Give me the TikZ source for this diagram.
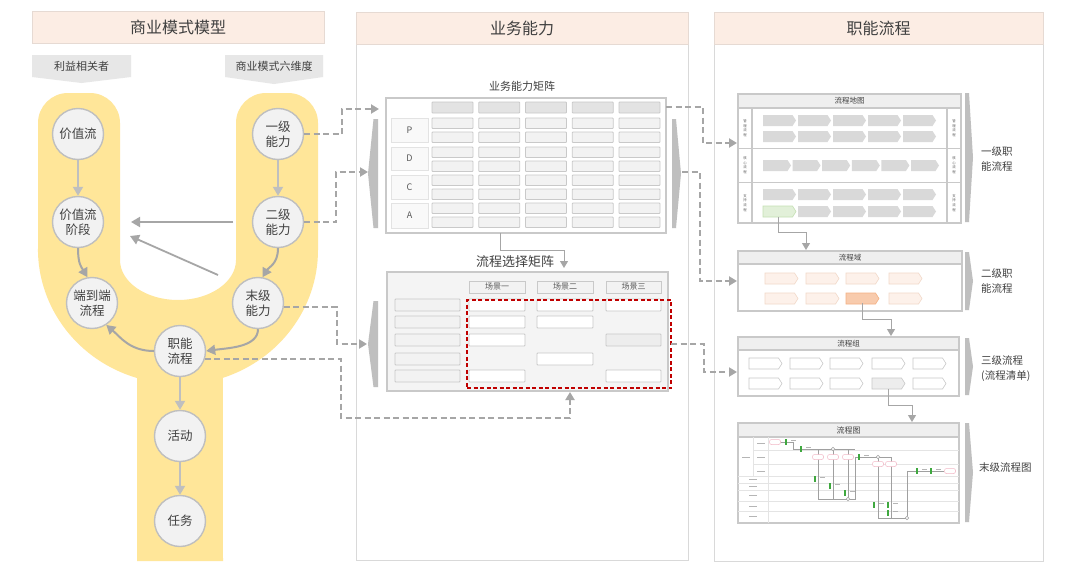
\documentclass[tikz,border=0pt]{standalone}
\usepackage{fontspec}
\setmainfont{Noto Sans CJK SC}
\usetikzlibrary{arrows.meta}
\definecolor{hdr}{HTML}{FCEDE4}
\definecolor{hdrb}{HTML}{E6DAD3}
\definecolor{frm}{HTML}{D9D9D9}
\definecolor{ylw}{HTML}{FFE699}
\definecolor{cfill}{HTML}{F2F2F2}
\definecolor{cline}{HTML}{BFBFBF}
\definecolor{txtc}{HTML}{404040}
\definecolor{stxt}{HTML}{595959}
\definecolor{dgray}{HTML}{A6A6A6}
\definecolor{lgray}{HTML}{BFBFBF}
\definecolor{cellc}{HTML}{F2F2F2}
\definecolor{cellb}{HTML}{C9C9C9}
\definecolor{hcell}{HTML}{E3E3E3}
\definecolor{labc}{HTML}{E7E7E7}
\definecolor{lblf}{HTML}{F9F9F9}
\definecolor{lblb}{HTML}{E3E3E3}
\definecolor{m2fill}{HTML}{F4F4F4}
\definecolor{chevc}{HTML}{D9D9D9}
\definecolor{peach}{HTML}{FDF1EA}
\definecolor{peachb}{HTML}{F2D9C9}
\definecolor{orng}{HTML}{F8CBAD}
\definecolor{orngb}{HTML}{F4B183}
\definecolor{grn}{HTML}{E2F0D9}
\definecolor{grnb}{HTML}{C5E0B4}
\definecolor{redc}{HTML}{C00000}
\definecolor{grayc}{HTML}{EDEDED}
\definecolor{hstrip}{HTML}{EFEFEF}
\definecolor{fgreen}{HTML}{3FA83F}
\definecolor{fpink}{HTML}{F2B8C6}
\definecolor{lane}{HTML}{E4E4E4}
\definecolor{flow}{HTML}{A0A0A0}
\definecolor{tlab}{HTML}{B5B5B5}

\newcommand\fs[2]{\fontsize{#1}{#2}\selectfont}
\newcommand\bx[7]{\node[#6,anchor=north west,minimum width={(#4-#2)*1pt},minimum height={(#5-#3)*1pt},inner sep=0pt,outer sep=0pt] (#1) at (#2,#3) {#7};}
\newcommand\chv[5]{\path[#5] (#1,#2) -- ++({#3-3.5},0) -- ++(3.5,{#4/2}) -- ++(-3.5,{#4/2}) -- ++({-#3+3.5},0) -- cycle;}
\newcommand\rbar[4]{\fill[lgray] (#1,#2) -- ({#1+4},#2) -- (#3,{(#2+#4)/2}) -- ({#1+4},#4) -- (#1,#4) -- cycle;}
\newcommand\lbar[4]{\fill[lgray] (#3,#2) -- ({#3-4.5},#2) -- (#1,{(#2+#4)/2}) -- ({#3-4.5},#4) -- (#3,#4) -- cycle;}
\newcommand\tl[2]{\fill[tlab] ({#1-4},{#2-0.5}) rectangle ({#1+4},{#2+0.5});}

\begin{document}
\begin{tikzpicture}[x=1pt,y=-1pt,
 circ/.style={circle,draw=cline,fill=cfill,line width=1.4pt,minimum size=51pt,inner sep=0pt,align=center,text=txtc,font=\fs{12.5}{15}},
 hdrbox/.style={draw=hdrb,fill=hdr,line width=0.8pt,text=txtc,font=\fs{16}{19}},
 frame/.style={draw=frm,line width=0.8pt},
 dsh/.style={draw=dgray,line width=2pt,dash pattern=on 6pt off 3.5pt,-{Triangle[length=8pt,width=9pt]}},
 sarr/.style={draw=lgray,line width=2pt,-{Triangle[length=9pt,width=10pt]}},
 carr/.style={draw=dgray,line width=2pt,-{Triangle[length=9pt,width=10pt]}},
 thinarr/.style={draw=dgray,line width=1pt,-{Triangle[length=7pt,width=8pt]}},
 cellst/.style={draw=cellb,fill=cellc,line width=0.8pt,rounded corners=0.8pt},
 hcellst/.style={draw=cellb,fill=hcell,line width=0.8pt,rounded corners=0.8pt},
 wcell/.style={draw=cellb,fill=white,line width=0.8pt,rounded corners=0.8pt},
 lblst/.style={draw=lblb,fill=lblf,line width=0.8pt,font=\fs{9}{11},text=stxt},
 bigbox/.style={draw=cellb,fill=white,line width=1.2pt},
 strip/.style={draw=cellb,fill=hstrip,line width=1.2pt,text=txtc},
 sep/.style={draw=cellb,line width=1.2pt},
 vt/.style={align=center,font=\fs{3.4}{4.6},text=stxt,inner sep=0pt},
 side/.style={anchor=west,align=left,font=\fs{10.5}{15},text=txtc,inner sep=0pt},
 fline/.style={draw=flow,line width=0.7pt},
 fov/.style={draw=fpink,fill=white,line width=0.5pt,rounded corners=2pt,minimum width=11pt,minimum height=5pt,inner sep=0pt},
 fgb/.style={fill=fgreen,minimum width=2pt,minimum height=6pt,inner sep=0pt},
 fj/.style={circle,draw=flow,fill=white,line width=0.5pt,minimum size=3.5pt,inner sep=0pt}
]
\useasboundingbox (0,0) rectangle (1080,573);
\fill[white] (0,0) rectangle (1080,573);

% ---------- panel frames and headers ----------
\draw[frame] (356,12) rectangle (688,560);
\draw[frame] (714,12) rectangle (1043,561);
\bx{h1}{32}{11}{324}{43}{hdrbox}{商业模式模型}
\bx{h2}{356}{12}{688}{44}{hdrbox}{业务能力}
\bx{h3}{714}{12}{1043}{44}{hdrbox}{职能流程}

% ---------- pentagon labels ----------
\fill[labc] (32,55) -- (131,55) -- (131,77) -- (81.5,83) -- (32,77) -- cycle;
\node[font=\fs{11}{13},text=txtc] (lstake) at (81.5,66.5) {利益相关者};
\fill[labc] (225,55) -- (323,55) -- (323,77) -- (274,84) -- (225,77) -- cycle;
\node[font=\fs{11}{13},text=txtc] (lsix) at (274,66.5) {商业模式六维度};

% ---------- yellow Y ----------
\fill[ylw] (38,250) -- (38,123) arc[start angle=180,end angle=270,radius=30]
  -- (90,93) arc[start angle=270,end angle=360,radius=30]
  -- (120,260) arc[start angle=180,end angle=0,x radius=58,y radius=40]
  -- (236,123) arc[start angle=180,end angle=270,radius=30]
  -- (288,93) arc[start angle=270,end angle=360,radius=30]
  -- (318,250) arc[start angle=0,end angle=71.3,x radius=140,y radius=135]
  -- (223,561) -- (137,561) -- (137,378)
  arc[start angle=107,end angle=180,x radius=140,y radius=135] -- cycle;

% ---------- circles ----------
\node[circ] (vs) at (78,134) {价值流};
\node[circ] (c1) at (278,134) {一级\\能力};
\node[circ] (vst) at (78,222) {价值流\\阶段};
\node[circ] (c2) at (278,222) {二级\\能力};
\node[circ] (e2e) at (92,303) {端到端\\流程};
\node[circ] (c3) at (258,303) {末级\\能力};
\node[circ] (fn) at (180,351) {职能\\流程};
\node[circ] (act) at (180,436) {活动};
\node[circ] (task) at (180,521) {任务};

\draw[sarr] (vs) -- (vst);
\draw[sarr] (c1) -- (c2);
\draw[sarr] (fn) -- (act);
\draw[sarr] (act) -- (task);
\draw[carr] (vst.south) .. controls +(0,16) and +(-6,-10) .. (e2e.100);
\draw[carr] (c2.south) .. controls +(0,16) and +(6,-10) .. (c3.80);
\draw[carr] (c3.south) .. controls +(0,18) and +(22,-3) .. (fn.east);
\draw[carr] (fn.west) .. controls +(-24,0) and +(14,12) .. (e2e.-57);

\coordinate (f1s) at (233,222);
\coordinate (f1e) at (131,222);
\coordinate (f2s) at (218,275);
\coordinate (f2e) at (130,236);
\draw[draw=dgray,line width=1.8pt,-{Triangle[length=9pt,width=10pt]}] (f1s) -- (f1e);
\draw[draw=dgray,line width=1.8pt,-{Triangle[length=9pt,width=10pt]}] (f2s) -- (f2e);

% ---------- matrix 1 ----------
\node[font=\fs{11}{13},text=txtc] (m1t) at (522,86) {业务能力矩阵};
\bx{m1}{386}{98}{666}{233}{bigbox}{}
\foreach \c in {0,...,4}{
  \draw[hcellst] ({432+\c*46.75},102) rectangle ++(41,11);
  \foreach \r in {118,132,147,161,175,189,203,217}{
    \draw[cellst] ({432+\c*46.75},\r) rectangle ++(41,10.5);
  }
}
\bx{mp}{391}{118}{428}{142}{lblst}{P}
\bx{md}{391}{147}{428}{170}{lblst}{D}
\bx{mc}{391}{175}{428}{199}{lblst}{C}
\bx{ma}{391}{203}{428}{228}{lblst}{A}
\lbar{368}{119}{378}{228}
\rbar{672}{119}{681}{228}

% ---------- matrix 2 ----------
\node[font=\fs{13}{15},text=txtc] (m2t) at (515,262) {流程选择矩阵};
\bx{m2}{387}{272}{668}{391}{draw=cellb,fill=m2fill,line width=1.2pt}{}
\bx{s1}{469}{281}{525}{293}{draw=cellb,fill=cellc,line width=0.8pt,font=\fs{8}{9},text=stxt}{场景一}
\bx{s2}{537}{281}{593}{293}{draw=cellb,fill=cellc,line width=0.8pt,font=\fs{8}{9},text=stxt}{场景二}
\bx{s3}{606}{281}{661}{293}{draw=cellb,fill=cellc,line width=0.8pt,font=\fs{8}{9},text=stxt}{场景三}
\foreach \r in {299,316,334,353,370}{\draw[cellst] (395,\r) rectangle (460,{\r+12});}
\foreach \r in {299,316,334,370}{\draw[wcell] (469,\r) rectangle (525,{\r+12});}
\foreach \r in {299,316,353}{\draw[wcell] (537,\r) rectangle (593,{\r+12});}
\draw[wcell] (606,299) rectangle (661,311);
\draw[cellst,fill=grayc] (606,334) rectangle (661,346);
\draw[wcell] (606,370) rectangle (661,382);
\bx{sel}{467}{300}{671}{388}{draw=redc,line width=1.5pt,dash pattern=on 4pt off 2.5pt}{}
\lbar{368}{301}{378}{387}

% ---------- level 1: 流程地图 ----------
\bx{lv1}{738}{94}{961}{223}{bigbox}{}
\bx{lv1h}{738}{94}{961}{108}{strip,font=\fs{7.5}{9}}{流程地图}
\draw[sep] (738,148.5) -- (961,148.5);
\draw[sep] (738,182.5) -- (961,182.5);
\draw[sep] (752,108) -- (752,223);
\draw[sep] (947,108) -- (947,223);
\node[vt] (vl1) at (745,128) {管\\理\\流\\程};
\node[vt] (vl2) at (745,165) {核\\心\\流\\程};
\node[vt] (vl3) at (745,203) {支\\持\\流\\程};
\node[vt] (vr1) at (954,128) {管\\理\\流\\程};
\node[vt] (vr2) at (954,165) {核\\心\\流\\程};
\node[vt] (vr3) at (954,203) {支\\持\\流\\程};
\foreach \i in {0,...,4}{
  \chv{{763+35*\i}}{115}{33}{11}{fill=chevc}
  \chv{{763+35*\i}}{131}{33}{11}{fill=chevc}
  \chv{{763+35*\i}}{189}{33}{11}{fill=chevc}
}
\foreach \i in {1,...,4}{\chv{{763+35*\i}}{206}{33}{11}{fill=chevc}}
\chv{763}{206}{33}{11}{fill=grn,draw=grnb,line width=0.6pt}
\foreach \i in {0,...,5}{\chv{{763+29.6*\i}}{160}{28}{11}{fill=chevc}}
\rbar{965}{93}{973}{222}
\node[side] (lb1) at (981,158.5) {一级职\\能流程};

% ---------- level 2: 流程域 ----------
\bx{lv2}{738}{251}{962}{311}{bigbox}{}
\bx{lv2h}{738}{251}{962}{264}{strip,font=\fs{7.5}{9}}{流程域}
\foreach \x in {765,806,846,889}{
  \chv{\x}{273}{33}{11}{fill=peach,draw=peachb,line width=0.6pt}
}
\foreach \x in {765,806,889}{
  \chv{\x}{293}{33}{11}{fill=peach,draw=peachb,line width=0.6pt}
}
\chv{846}{293}{33}{11}{fill=orng,draw=orngb,line width=0.6pt}
\rbar{965}{252}{973}{310}
\node[side] (lb2) at (981,281) {二级职\\能流程};

% ---------- level 3: 流程组 ----------
\bx{lv3}{738}{337}{959}{396}{bigbox}{}
\bx{lv3h}{738}{337}{959}{350}{strip,font=\fs{7.5}{9}}{流程组}
\foreach \x in {749,790,830,872,913}{
  \chv{\x}{358}{33}{11}{fill=white,draw=cellb,line width=0.6pt}
}
\foreach \x in {749,790,830,913}{
  \chv{\x}{378}{33}{11}{fill=white,draw=cellb,line width=0.6pt}
}
\chv{872}{378}{33}{11}{fill=grayc,draw=cellb,line width=0.6pt}
\rbar{965}{338}{973}{395}
\node[side] (lb3) at (981,368.5) {三级流程\\(流程清单)};

% ---------- level 4: 流程图 ----------
\bx{lv4}{738}{423}{959}{523}{bigbox}{}
\bx{lv4h}{738}{423}{959}{437}{strip,font=\fs{8}{9}}{流程图}
\draw[lane,line width=0.6pt] (753,437) -- (753,476);
\draw[lane,line width=0.6pt] (768,437) -- (768,523);
\foreach \y in {450,464}{\draw[lane,line width=0.6pt] (753,\y) -- (959,\y);}
\foreach \y in {476,483,490,501,511}{\draw[lane,line width=0.6pt] (738,\y) -- (959,\y);}
\tl{745.5}{457}
\tl{760.5}{443}\tl{760.5}{457}\tl{760.5}{471}
\tl{753}{479.5}\tl{753}{486.5}\tl{753}{495.5}\tl{753}{506}\tl{753}{516.5}
% flow lines
\node[fov] (o1) at (775,442) {};
\node[fgb] (g1) at (786,442) {};
\draw[fline] (o1) -- (g1);
\node[fgb] (g2) at (801,449) {};
\draw[fline] (g1.east) -- (793,442) -- (793,449) -- (g2.west);
\draw[fline] (g2.east) -- (855,449);
\draw[fline] (818,449) -- (818,499) -- (855,499) -- (855,457);
\draw[fline] (833,449) -- (833,499);
\draw[fline] (848,449) -- (848,499);
\node[fj] (j1) at (833,449) {};
\node[fj] (j2) at (848,499) {};
\node[fov] (o2) at (818,457) {};
\node[fov] (o3) at (833,457) {};
\node[fov] (o4) at (848,457) {};
\node[fgb] (g3) at (815,479) {};
\node[fgb] (g4) at (830,486) {};
\node[fgb] (g5) at (845,493) {};
\node[fgb] (g6) at (859,457) {};
\draw[fline] (855,457) -- (g6.west);
\draw[fline] (g6.east) -- (891,457);
\draw[fline] (878,457) -- (878,518) -- (907,518);
\draw[fline] (891,457) -- (891,518);
\node[fj] (j3) at (878,457) {};
\node[fov] (o5) at (878,464) {};
\node[fov] (o6) at (891,464) {};
\node[fgb] (g7) at (874,505) {};
\node[fgb] (g8) at (888,505) {};
\node[fgb] (g9) at (888,513) {};
\node[fgb] (g10) at (917,471) {};
\node[fgb] (g11) at (931,471) {};
\node[fov] (o7) at (950,471) {};
\node[fj] (j4) at (907,518) {};
\draw[fline] (j4) -- (907,471) -- (g10.west);
\draw[fline] (g10.east) -- (g11.west);
\draw[fline] (g11.east) -- (o7.west);
\foreach \p in {(790.5,440),(805.5,447),(819.5,477),(834.5,484),(849.5,491),(863.5,455),(878.5,503),(892.5,503),(892.5,511),(921.5,469),(935.5,469)}{
  \fill[tlab] \p rectangle ++(5,1);
}
\rbar{965}{423}{973}{522}
\node[side] (lb4) at (979,468) {末级流程图};

% ---------- dashed connectors ----------
\coordinate (m1a) at (379,109);
\coordinate (m1b) at (368,172);
\coordinate (m2a) at (367,344);
\coordinate (d4a) at (341,418);
\coordinate (m2b) at (570,392);
\coordinate (m1r) at (682,172);
\coordinate (L1in) at (737,143);
\coordinate (L2in) at (737,281);
\coordinate (L3in) at (737,372);
\draw[dsh] (c1.east) -- ++(38,0) |- (m1a);
\draw[dsh] (c2.east) -- ++(32,0) |- (m1b);
\draw[dsh] (c3.-8) -- ++(53,0) |- (m2a);
\draw[dsh] (fn.-18) -| (d4a) -| (m2b);
\draw[dsh] ([yshift=-9pt]m1.north east) -- ++(37,0) |- (L1in);
\draw[dsh] (m1r) -- ++(18,0) |- (L2in);
\draw[dsh] (sel.east) -- ++(33,0) |- (L3in);

% ---------- thin connectors ----------
\coordinate (t1e) at (564,268);
\coordinate (t2s) at (778,217);
\coordinate (t2e) at (806,250);
\coordinate (t3s) at (862,303);
\coordinate (t3e) at (891,336);
\coordinate (t4s) at (888,389);
\coordinate (t4e) at (912,422);
\draw[thinarr] ([xshift=-26pt]m1.south) -- ++(0,17) -| (t1e);
\draw[thinarr] (t2s) -- ++(0,15) -| (t2e);
\draw[thinarr] (t3s) -- ++(0,16) -| (t3e);
\draw[thinarr] (t4s) -- ++(0,16) -| (t4e);
\end{tikzpicture}
\end{document}
